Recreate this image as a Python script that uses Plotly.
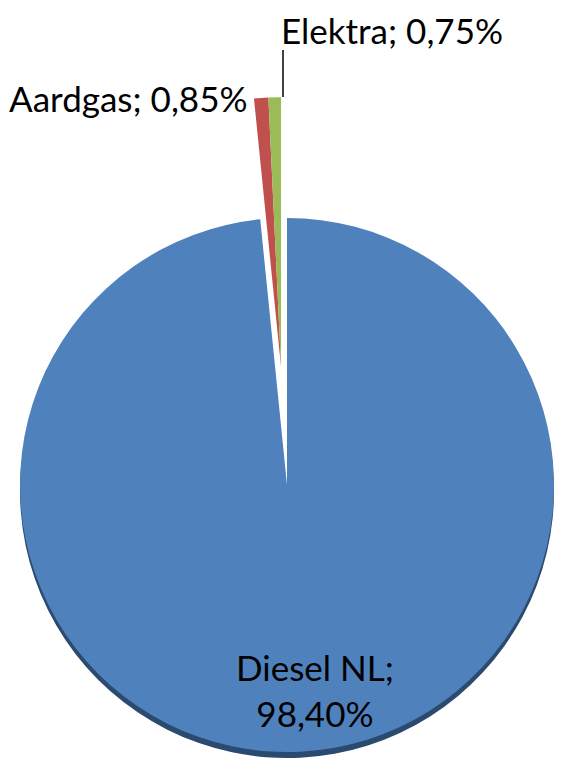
import math
import plotly.graph_objects as go

# ---- data ----
labels = ["Diesel NL", "Aardgas", "Elektra"]
values = [98.40, 0.85, 0.75]
value_text = ["98,40%", "0,85%", "0,75%"]
colors = ["#4F81BD", "#C0504D", "#9BBB59"]

# ---- layout in pixels (screen coordinates of the 569x767 window) ----
OFF = 8                  # default body margin of the html page
W, H = 569 - OFF, 767 - 2 * OFF
R = 267                  # main pie radius (px)
RS = 270                 # radius of the exploded slices (px)
CX, CY = 287, 485        # main pie centre
PULL = 118               # explosion distance for the small slices (px)
SHADOW = 6

def fx(x):
    return (x - OFF) / W

def fy(y):
    return 1 - (y - OFF) / H

def dom(cx, cy, r):
    return dict(x=[fx(cx - r), fx(cx + r)], y=[fy(cy + r), fy(cy - r)])

# bisector angle of the small slices (clockwise from 12 o'clock)
tot = sum(values)
start = values[0] / tot * 360
bis = math.radians(start + (360 - start) / 2)
SX = CX + PULL * math.sin(bis)
SY = CY - PULL * math.cos(bis)

common = dict(labels=labels, values=values, sort=False, direction="clockwise",
              rotation=0, textinfo="none", hoverinfo="label+percent",
              showlegend=False)
clear = "rgba(0,0,0,0)"

fig = go.Figure()
fig.add_trace(go.Pie(**common, domain=dom(CX, CY + SHADOW, R),
                     marker=dict(colors=["#2B4A70", clear, clear], line=dict(width=0))))
fig.add_trace(go.Pie(**common, domain=dom(CX, CY, R),
                     marker=dict(colors=[colors[0], clear, clear], line=dict(width=0))))
fig.add_trace(go.Pie(**common, domain=dom(SX, SY, RS),
                     marker=dict(colors=[clear, colors[1], colors[2]], line=dict(width=0))))

FONT = dict(family="Lato", size=35, color="#000000")

ann = [
    dict(x=fx(315), y=fy(690), text=f"{labels[0]};<br>{value_text[0]}",
         xanchor="center", yanchor="middle"),
    dict(x=fx(250), y=fy(98), text=f"{labels[1]}; {value_text[1]}",
         xanchor="right", yanchor="middle"),
    dict(x=fx(280), y=fy(OFF), text=f"{labels[2]}; {value_text[2]}",
         xanchor="left", yanchor="top", borderpad=0),
]
for a in ann:
    a.update(xref="paper", yref="paper", showarrow=False, font=FONT)

shapes = [dict(type="line", xref="paper", yref="paper",
               x0=fx(283), y0=fy(50), x1=fx(283), y1=fy(97),
               line=dict(color="#000000", width=1.5))]

fig.update_layout(width=W, height=H, margin=dict(l=0, r=0, t=0, b=0),
                  paper_bgcolor="white", plot_bgcolor="white",
                  annotations=ann, shapes=shapes)

fig.write_html("out.html")
